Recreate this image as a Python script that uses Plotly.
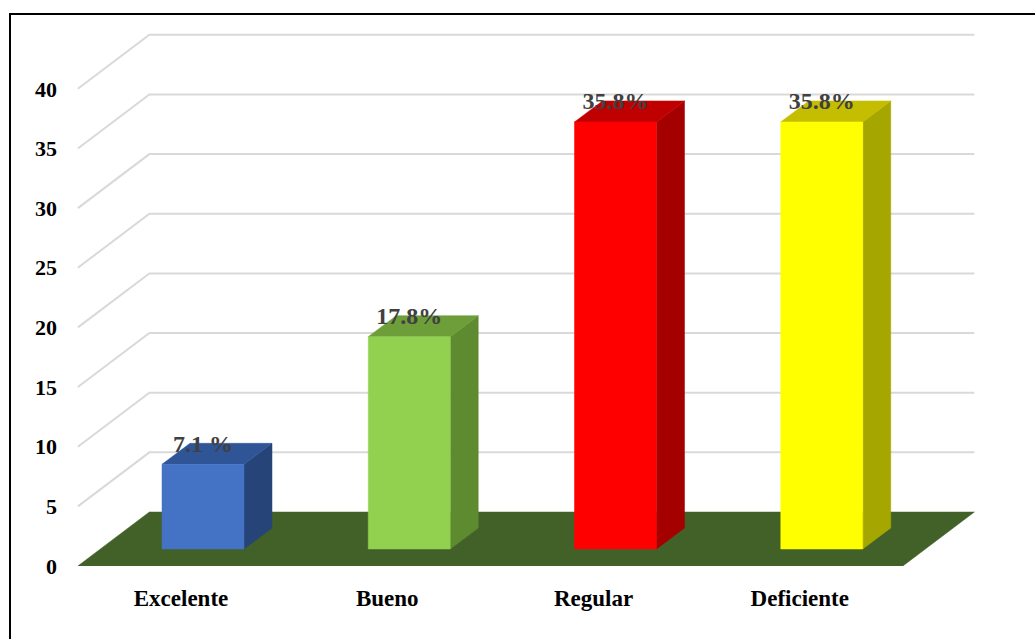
import plotly.graph_objects as go

# ---- data ----
categories = ["Excelente", "Bueno", "Regular", "Deficiente"]
values = [7.1, 17.8, 35.8, 35.8]
value_labels = ["7.1 %", "17.8%", "35.8%", "35.8%"]
y_ticks = [0, 5, 10, 15, 20, 25, 30, 35, 40]

# ---- styles ----
front_colors = ["#4472C4", "#92D050", "#FF0000", "#FFFF00"]
top_colors = ["#2F5597", "#6E9E3A", "#C00000", "#C4BD00"]
side_colors = ["#264478", "#5E8A30", "#A50000", "#A6A600"]
floor_color = "#416129"
grid_color = "#D9D9D9"
label_color = "#404040"
FONT = "Liberation Serif, Times New Roman, serif"

# ---- geometry (pixel -> data scale) ----
W, H = 1035, 639
ML, MR, MT, MB = 58, 0, 17, 73
PX_X = 206.25          # pixels per category unit
PX_Y = 11.93           # pixels per value unit
X0_PX = 181            # pixel of category 0 (front plane)
x_range = [(ML - X0_PX) / PX_X, (W - MR - X0_PX) / PX_X]
y_range = [0, (H - MB - MT) / PX_Y]

DX, DY = 71.5 / PX_X, 54 / PX_Y        # full depth offset
BX, BY = 22 / PX_X, 17 / PX_Y          # bar front plane offset
HW = 41 / PX_X                         # half bar width
DDX, DDY = 28 / PX_X, 21 / PX_Y        # bar depth
LBL = 1.55                             # label offset above bar

fig = go.Figure()

def poly(xs, ys, color):
    fig.add_trace(go.Scatter(x=xs + [xs[0]], y=ys + [ys[0]], mode="lines",
                             fill="toself", fillcolor=color,
                             line=dict(color=color, width=0.5),
                             hoverinfo="skip", showlegend=False))

# gridlines (3D)
for g in y_ticks[1:]:
    fig.add_trace(go.Scatter(x=[-0.5, -0.5 + DX, len(categories) - 0.5 + DX],
                             y=[g, g + DY, g + DY], mode="lines",
                             line=dict(color=grid_color, width=2),
                             hoverinfo="skip", showlegend=False))

# floor
n = len(categories)
poly([-0.5, n - 0.5, n - 0.5 + DX, -0.5 + DX], [0, 0, DY, DY], floor_color)

# bars
for i, v in enumerate(values):
    cx = i + BX
    yb = BY
    # side
    poly([cx + HW, cx + HW + DDX, cx + HW + DDX, cx + HW],
         [yb, yb + DDY, yb + v + DDY, yb + v], side_colors[i])
    # top
    poly([cx - HW, cx + HW, cx + HW + DDX, cx - HW + DDX],
         [yb + v, yb + v, yb + v + DDY, yb + v + DDY], top_colors[i])
    # front
    poly([cx - HW, cx + HW, cx + HW, cx - HW],
         [yb, yb, yb + v, yb + v], front_colors[i])

# value labels
fig.add_trace(go.Scatter(
    x=[i + BX for i in range(n)],
    y=[BY + v + LBL for v in values],
    text=value_labels, mode="text", textposition="middle center",
    textfont=dict(family=FONT, size=24, color=label_color, weight="bold"),
    cliponaxis=False, hoverinfo="skip", showlegend=False))

# outer frame
def paper_x(px):
    return (px - ML) / (W - ML - MR)

def paper_y(py):
    return (H - MB - py) / (H - MB - MT)

fig.add_shape(type="rect", xref="paper", yref="paper",
              x0=paper_x(10), x1=paper_x(1060), y0=paper_y(670), y1=paper_y(14),
              line=dict(color="black", width=2), fillcolor="rgba(0,0,0,0)")

fig.update_layout(
    width=W, height=H,
    margin=dict(l=ML, r=MR, t=MT, b=MB),
    paper_bgcolor="white", plot_bgcolor="white",
    showlegend=False,
    xaxis=dict(range=x_range, tickvals=list(range(n)), ticktext=categories,
               showgrid=False, zeroline=False, showline=False,
               ticks="outside", ticklen=11, tickcolor="rgba(0,0,0,0)",
               tickfont=dict(family=FONT, size=23, color="black", weight="bold"),
               fixedrange=True),
    yaxis=dict(range=y_range, tickvals=y_ticks,
               showgrid=False, zeroline=False, showline=False, ticks="",
               tickfont=dict(family=FONT, size=22, color="black", weight="bold"),
               fixedrange=True),
)

fig.write_html("out.html")
